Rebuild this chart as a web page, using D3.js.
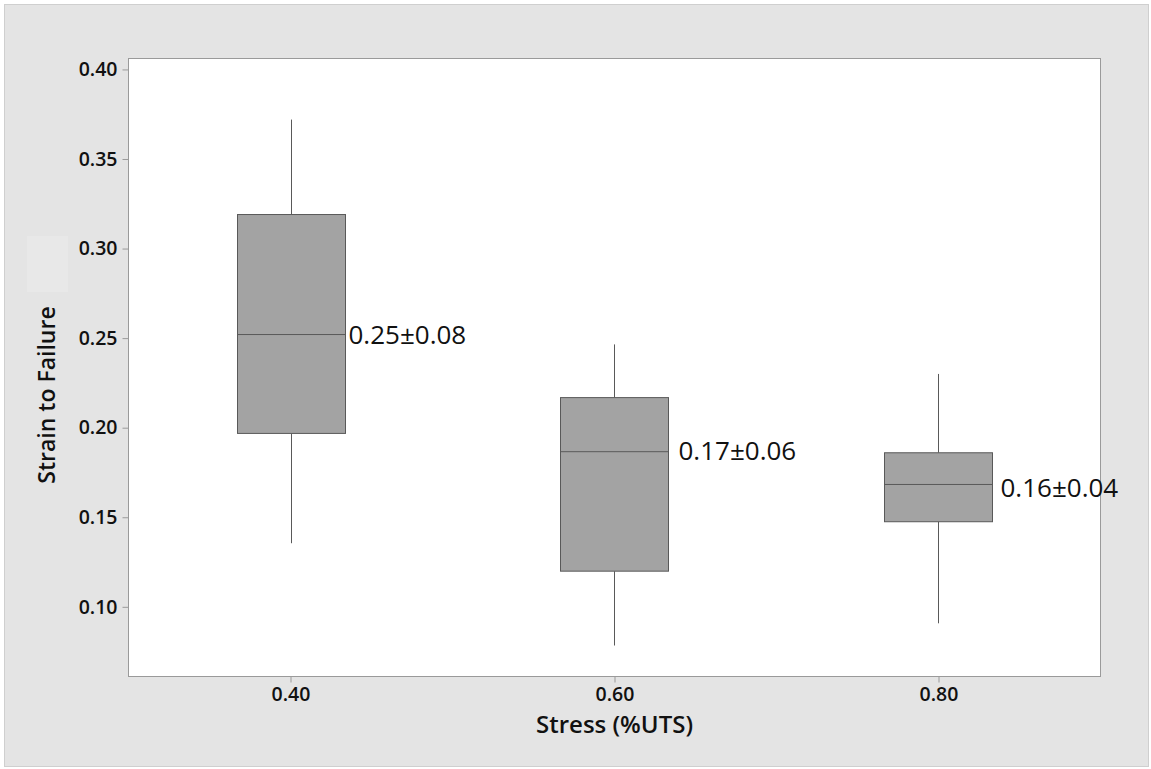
<!DOCTYPE html>
<html lang="en">
<head>
  <meta charset="UTF-8">
  <style>
    body {
      margin: 0;
      background: #ffffff;
    }

    svg {
      display: block;
      font-family: "Open Sans", "Noto Sans", sans-serif;
    }

    .box {
      fill: #a3a3a3;
      stroke: #595959;
      stroke-width: 1;
    }

    .whisker, .median {
      stroke: #595959;
      stroke-width: 1;
    }

    .tick text {
      font-family: "Open Sans", "Noto Sans", sans-serif;
      font-size: 19.5px;
      font-weight: 600;
      fill: #111;
    }

    .tick line, .domain {
      stroke: #9a9a9a;
    }
  </style>
  <script src="https://d3js.org/d3.v7.min.js"></script>
</head>
<body>

<svg id="chart"></svg>

<script>
  // stress levels (%UTS)
  const stress = [0.40, 0.60, 0.80];

  // box statistics
  const whiskerHigh = [0.372, 0.2465, 0.230];
  const q3 = [0.319, 0.2168, 0.186];
  const median = [0.252, 0.1866, 0.1683];
  const q1 = [0.1968, 0.1199, 0.1475];
  const whiskerLow = [0.1355, 0.0784, 0.0908];

  // mean +- sd annotations
  const labels = ["0.25\u00b10.08", "0.17\u00b10.06", "0.16\u00b10.04"];
  const labelAt = [0.252, 0.187, 0.1665];

  const xTicks = [0.40, 0.60, 0.80];
  const yTicks = [0.10, 0.15, 0.20, 0.25, 0.30, 0.35, 0.40];

  const width = 1151, height = 769;
  const plot = { left: 128.5, top: 58.5, right: 1100.5, bottom: 676.5 };
  const boxWidth = 108;
  const labelDx = [57, 64, 62];

  const svg = d3.select("#chart")
    .attr("width", width)
    .attr("height", height);

  // outer panel
  svg.append("rect")
    .attr("x", 4.5).attr("y", 4.5)
    .attr("width", 1144).attr("height", 762)
    .attr("fill", "#e4e4e4")
    .attr("stroke", "#cfcfcf");

  // faint leftover patch near the y title
  svg.append("rect")
    .attr("x", 27).attr("y", 236)
    .attr("width", 41).attr("height", 56)
    .attr("fill", "#e8e8e8");

  svg.append("rect")
    .attr("x", plot.left).attr("y", plot.top)
    .attr("width", plot.right - plot.left)
    .attr("height", plot.bottom - plot.top)
    .attr("fill", "#ffffff")
    .attr("stroke", "#9a9a9a");

  const x = d3.scaleLinear()
    .domain([0.30, 0.90])
    .range([plot.left, plot.right]);

  const y = d3.scaleLinear()
    .domain([0.0611, 0.4061])
    .range([plot.bottom, plot.top]);

  const xAxis = svg.append("g")
    .attr("transform", `translate(0,${plot.bottom})`)
    .call(d3.axisBottom(x).tickValues(xTicks).tickFormat(d3.format(".2f")).tickSize(6).tickPadding(5));
  xAxis.select(".domain").remove();

  const yAxis = svg.append("g")
    .attr("transform", `translate(${plot.left},0)`)
    .call(d3.axisLeft(y).tickValues(yTicks).tickFormat(d3.format(".2f")).tickSize(6).tickPadding(5));
  yAxis.select(".domain").remove();

  // axis titles
  svg.append("text")
    .attr("x", (plot.left + plot.right) / 2)
    .attr("y", 733)
    .attr("text-anchor", "middle")
    .attr("font-size", 24)
    .attr("font-weight", 600)
    .attr("fill", "#111")
    .text("Stress (%UTS)");

  svg.append("text")
    .attr("transform", "translate(55,395) rotate(-90)")
    .attr("text-anchor", "middle")
    .attr("font-size", 23)
    .attr("font-weight", 600)
    .attr("fill", "#111")
    .text("Strain to Failure");

  // boxes
  stress.forEach((s, i) => {
    const cx = Math.round(x(s)) + 0.5;
    const g = svg.append("g");

    g.append("line")
      .attr("class", "whisker")
      .attr("x1", cx).attr("x2", cx)
      .attr("y1", y(whiskerHigh[i])).attr("y2", y(q3[i]));

    g.append("line")
      .attr("class", "whisker")
      .attr("x1", cx).attr("x2", cx)
      .attr("y1", y(q1[i])).attr("y2", y(whiskerLow[i]));

    g.append("rect")
      .attr("class", "box")
      .attr("x", cx - boxWidth / 2)
      .attr("y", y(q3[i]))
      .attr("width", boxWidth)
      .attr("height", y(q1[i]) - y(q3[i]));

    g.append("line")
      .attr("class", "median")
      .attr("x1", cx - boxWidth / 2).attr("x2", cx + boxWidth / 2)
      .attr("y1", y(median[i])).attr("y2", y(median[i]));

    g.append("text")
      .attr("x", cx + labelDx[i])
      .attr("y", y(labelAt[i]) + 9.5)
      .attr("font-size", 26)
      .attr("fill", "#111")
      .text(labels[i]);
  });
</script>

</body>
</html>
